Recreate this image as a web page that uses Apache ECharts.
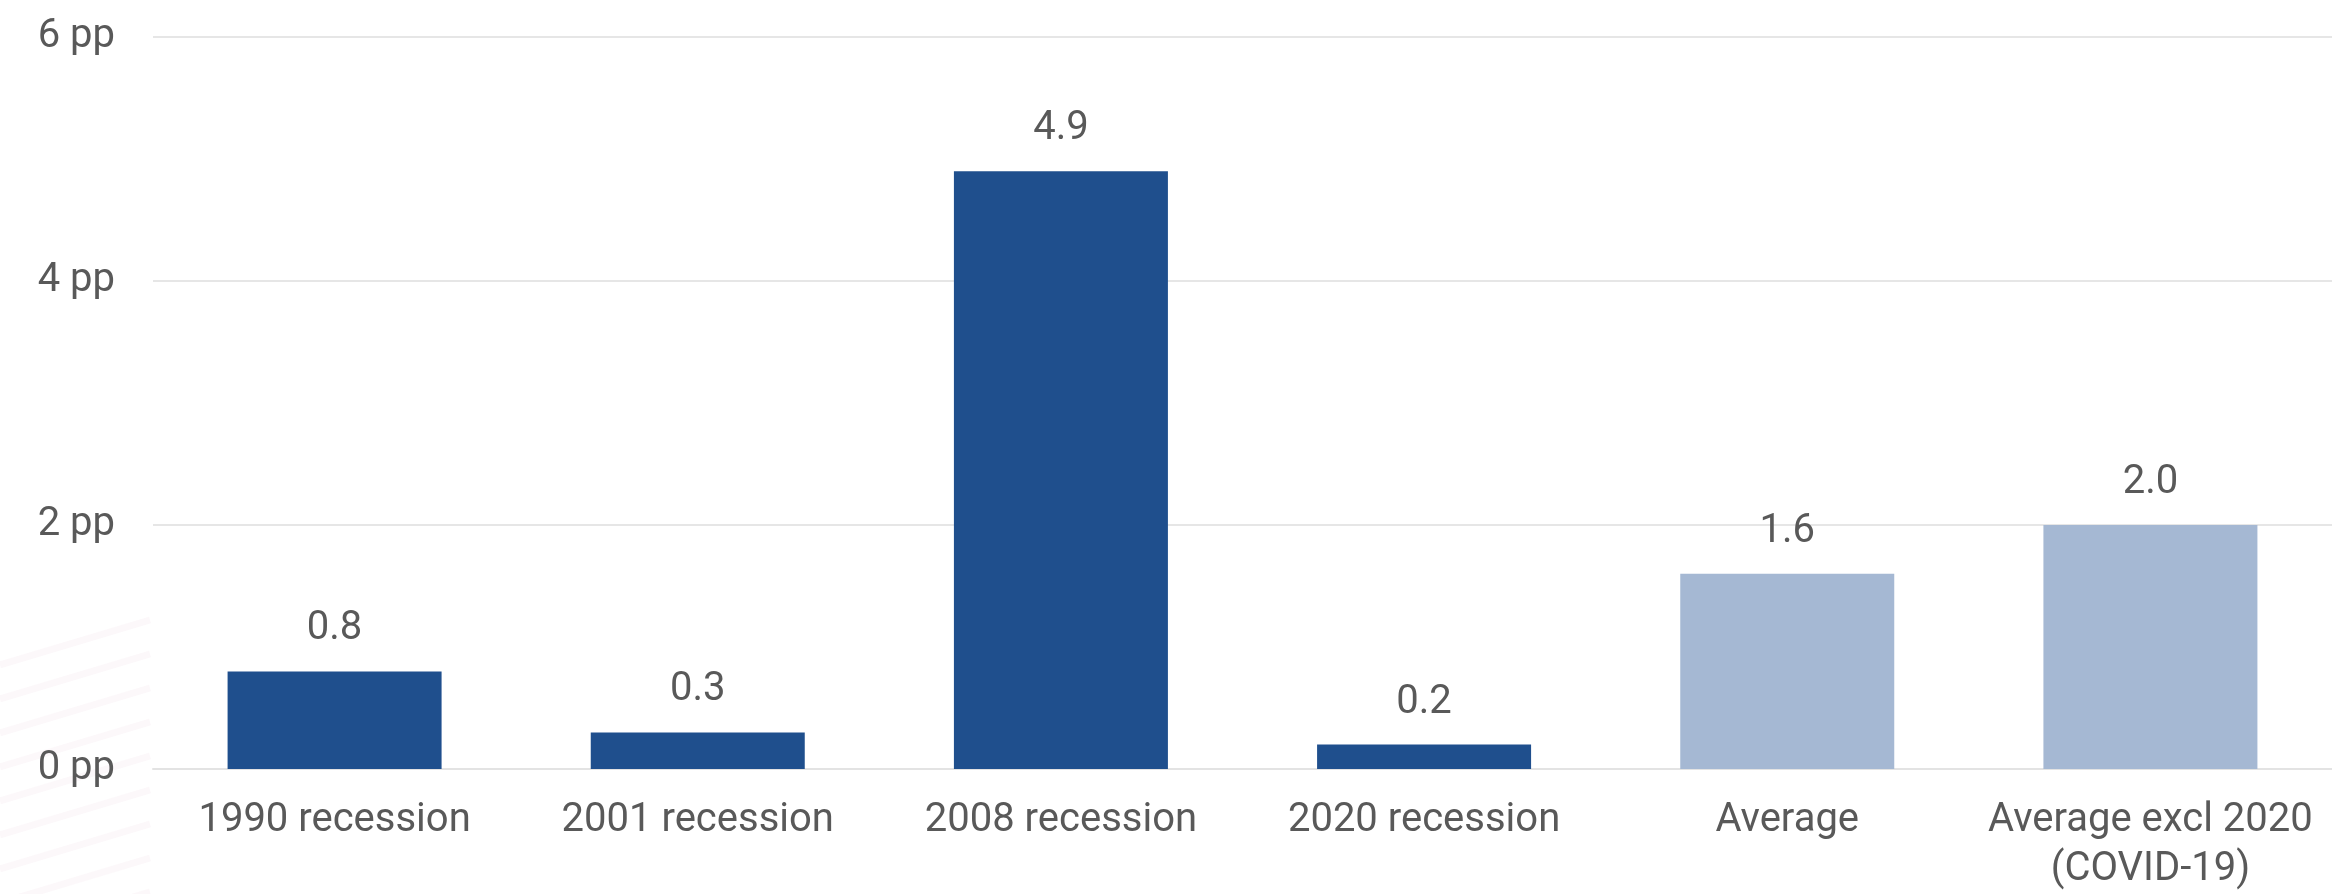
<!DOCTYPE html>
<html>
<head>
<meta charset="utf-8">
<script src="https://cdn.jsdelivr.net/npm/echarts@6/dist/echarts.min.js"></script>
<style>
  html, body { margin: 0; padding: 0; background: #ffffff; }
  #chart { width: 2332px; height: 894px; }
</style>
</head>
<body>
<div id="chart"></div>
<script>
// Labour-market change by recession, percentage points
const categories = ['1990 recession', '2001 recession', '2008 recession', '2020 recession', 'Average', 'Average excl 2020\n(COVID-19)'];
const values = [0.8, 0.3, 4.9, 0.2, 1.6, 2.0];
const isAverage = [false, false, false, false, true, true];
const yTicks = [0, 2, 4, 6];

const DARK = '#1f4f8d';
const LIGHT = '#a5b8d3';
const TEXT = '#595959';
const FONT = 'Roboto';

// faint diagonal watermark strokes in the lower-left corner
const deco = [];
for (let i = 0; i < 9; i++) {
  const y0 = 620 + i * 34;
  deco.push({
    type: 'line',
    silent: true,
    z: -10,
    shape: { x1: 0, y1: y0 + 45, x2: 150, y2: y0 },
    style: { stroke: 'rgba(214, 160, 185, 0.07)', lineWidth: 7 }
  });
}

const chart = echarts.init(document.getElementById('chart'), null, { renderer: 'canvas' });
chart.setOption({
  backgroundColor: '#ffffff',
  animation: false,
  graphic: deco,
  grid: { left: 153, right: 0, top: 37, bottom: 122, containLabel: false },
  xAxis: {
    type: 'category',
    data: categories,
    axisLine: { show: true, lineStyle: { color: '#e3e3e3', width: 2 } },
    axisTick: { show: false },
    axisLabel: {
      color: TEXT,
      fontFamily: FONT,
      fontSize: 40,
      margin: 27,
      lineHeight: 49,
      interval: 0
    }
  },
  yAxis: {
    type: 'value',
    min: 0,
    max: 6,
    interval: 2,
    axisLine: { show: false },
    axisTick: { show: false },
    splitLine: { lineStyle: { color: '#e6e6e6', width: 2 } },
    axisLabel: {
      color: TEXT,
      fontFamily: FONT,
      fontSize: 40,
      margin: 38,
      formatter: v => (yTicks.includes(v) ? v + ' pp' : '')
    }
  },
  series: [{
    type: 'bar',
    barWidth: 214,
    data: values.map((v, i) => ({
      value: v,
      itemStyle: { color: isAverage[i] ? LIGHT : DARK }
    })),
    label: {
      show: true,
      position: 'top',
      distance: 22,
      color: TEXT,
      fontFamily: FONT,
      fontSize: 40,
      formatter: p => p.value.toFixed(1)
    }
  }]
});
</script>
</body>
</html>
